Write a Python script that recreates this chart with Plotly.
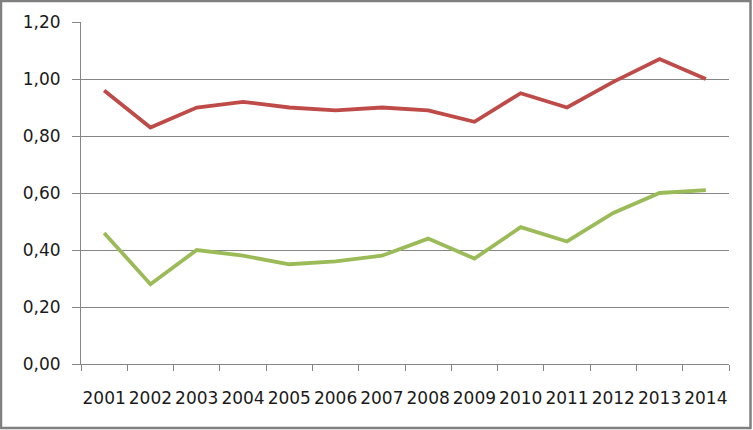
import plotly.graph_objects as go

years = ["2001", "2002", "2003", "2004", "2005", "2006", "2007",
         "2008", "2009", "2010", "2011", "2012", "2013", "2014"]
red_values = [0.96, 0.83, 0.90, 0.92, 0.90, 0.89, 0.90,
              0.89, 0.85, 0.95, 0.90, 0.99, 1.07, 1.00]
green_values = [0.46, 0.28, 0.40, 0.38, 0.35, 0.36, 0.38,
                0.44, 0.37, 0.48, 0.43, 0.53, 0.60, 0.61]
y_ticks = [0.0, 0.2, 0.4, 0.6, 0.8, 1.0, 1.2]

W, H = 753, 430
ML, MR, MT, MB = 81, 24, 22, 66
PW, PH = W - ML - MR, H - MT - MB

fig = go.Figure()
fig.add_trace(go.Scatter(x=years, y=red_values, mode="lines",
                         line=dict(color="#BE4B48", width=3.8), showlegend=False))
fig.add_trace(go.Scatter(x=years, y=green_values, mode="lines",
                         line=dict(color="#9BBB59", width=3.8), showlegend=False))

axis_col = "#868686"
fig.update_layout(
    width=W, height=H,
    margin=dict(l=ML, r=MR, t=MT, b=MB, pad=0, autoexpand=False),
    paper_bgcolor="white", plot_bgcolor="white",
    separators=", ",
    font=dict(family="DejaVu Sans", size=17, color="#1a1a1a"),
    xaxis=dict(type="category", range=[-0.5, 13.5], tickson="boundaries",
               ticks="outside", ticklen=6, tickcolor=axis_col, showline=True,
               linecolor=axis_col, linewidth=1, showgrid=False, zeroline=False,
               tickangle=0, ticklabelstandoff=19, automargin=False),
    yaxis=dict(range=[0, 1.2], tickvals=y_ticks, tickformat=".2f",
               ticks="outside", ticklen=8, tickcolor=axis_col, showline=True,
               linecolor=axis_col, linewidth=1, showgrid=True, gridcolor=axis_col,
               gridwidth=1, zeroline=False, ticklabelstandoff=8, automargin=False),
    shapes=[dict(type="rect", xref="paper", yref="paper",
                 x0=(1 - ML) / PW, x1=(750.5 - ML) / PW,
                 y0=(MT + PH - 428) / PH, y1=(MT + PH - 1) / PH,
                 line=dict(color="#808080", width=2.5), fillcolor="rgba(0,0,0,0)",
                 layer="above")],
)

fig.write_html("out.html", config={"displayModeBar": False},
               post_script="document.body.style.margin='0';")
